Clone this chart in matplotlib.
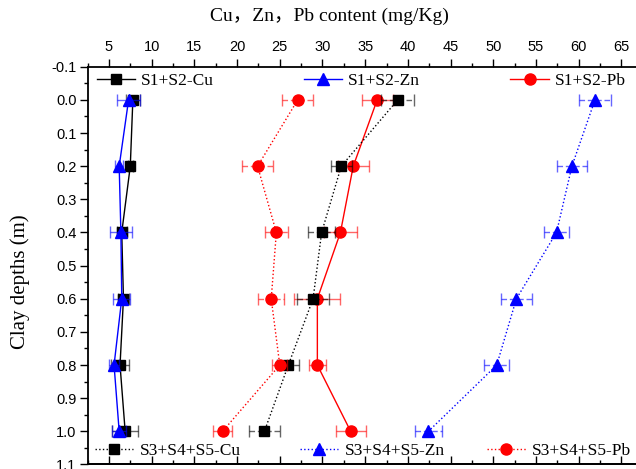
import matplotlib
matplotlib.use("Agg")
import matplotlib.pyplot as plt
from matplotlib.lines import Line2D
from matplotlib.legend import Legend
from matplotlib.ticker import MultipleLocator, FormatStrFormatter

# depths (m)
depth = [0.0, 0.2, 0.4, 0.6, 0.8, 1.0]

# S1+S2 series (solid lines)
s12_cu = [7.8, 7.5, 6.5, 6.7, 6.3, 6.9]
s12_cu_err = [0.8, 0.3, 0.6, 0.6, 1.0, 1.5]
s12_zn = [7.3, 6.2, 6.4, 6.5, 5.6, 6.2]
s12_zn_err = [1.3, 0.5, 1.3, 1.0, 0.6, 0.8]
s12_pb = [36.4, 33.6, 32.1, 29.4, 29.4, 33.3]
s12_pb_err = [1.8, 1.8, 1.9, 2.7, 1.0, 1.75]

# S3+S4+S5 series (dotted lines)
s345_cu = [38.8, 32.2, 29.9, 28.9, 26.0, 23.2]
s345_cu_err = [1.9, 1.2, 1.6, 1.9, 1.3, 1.85]
s345_zn = [61.9, 59.2, 57.4, 52.7, 50.4, 42.4]
s345_zn_err = [1.85, 1.75, 1.45, 1.85, 1.45, 1.6]
s345_pb = [27.1, 22.4, 24.6, 24.0, 25.0, 18.3]
s345_pb_err = [1.8, 1.85, 1.35, 1.5, 0.9, 1.1]

serif = ["Liberation Serif", "Noto Sans CJK SC"]
plt.rcParams["font.family"] = "Liberation Sans"

fig = plt.figure(figsize=(6.36, 4.69), dpi=100)
ax = fig.add_axes([0.1377, 0.0096, 0.873, 0.848])

series = [
    (s12_cu, s12_cu_err, "black", "s", 6.5, "-", "S1+S2-Cu"),
    (s12_zn, s12_zn_err, "blue", "^", 8, "-", "S1+S2-Zn"),
    (s12_pb, s12_pb_err, "red", "o", 8, "-", "S1+S2-Pb"),
    (s345_cu, s345_cu_err, "black", "s", 6.5, ":", "S3+S4+S5-Cu"),
    (s345_zn, s345_zn_err, "blue", "^", 8, ":", "S3+S4+S5-Zn"),
    (s345_pb, s345_pb_err, "red", "o", 8, ":", "S3+S4+S5-Pb"),
]

handles = []
for vals, err, col, mk, ms, ls, name in series:
    eb = ax.errorbar(vals, depth, xerr=err, fmt="none", ecolor=col,
                     elinewidth=1.0, capsize=4, capthick=1.0, alpha=0.6)
    if ls == ":":
        eb[2][0].set_linestyle((0, (4, 2)))
    ax.plot(vals, depth, color=col, linestyle=ls, linewidth=1.0,
            marker=mk, markersize=ms)
    handles.append(Line2D([], [], color=col, linestyle=ls, linewidth=1.0,
                          marker=mk, markersize=ms, label=name))

ax.set_xlim(2.5, 67.5)
ax.set_ylim(1.1, -0.1)

ax.xaxis.set_ticks_position("top")
ax.xaxis.set_label_position("top")
ax.xaxis.set_major_locator(MultipleLocator(5))
ax.xaxis.set_minor_locator(MultipleLocator(2.5))
ax.yaxis.set_major_locator(MultipleLocator(0.1))
ax.yaxis.set_minor_locator(MultipleLocator(0.05))
ax.yaxis.set_major_formatter(FormatStrFormatter("%.1f"))
ax.tick_params(axis="both", which="major", direction="out", length=6,
               width=1, labelsize=10.5)
ax.tick_params(axis="both", which="minor", direction="out", length=3, width=1)
ax.tick_params(axis="y", pad=2)
ax.tick_params(axis="x", pad=3)

sec = ax.secondary_xaxis("bottom")
sec.xaxis.set_major_locator(MultipleLocator(5))
sec.xaxis.set_minor_locator(MultipleLocator(2.5))
sec.tick_params(which="major", direction="in", length=6, width=1, labelbottom=False)
sec.tick_params(which="minor", direction="in", length=3, width=1)
sec.spines["bottom"].set_linewidth(1.3)

for sp in ax.spines.values():
    sp.set_linewidth(1.3)

ax.set_xlabel("Cu，Zn，Pb content (mg/Kg)", family=serif, fontsize=14)
ax.xaxis.set_label_coords(0.435, 1.115)
ax.set_ylabel("Clay depths (m)", family=serif, fontsize=15)
ax.yaxis.set_label_coords(-0.103, 0.46)

# legend entries placed individually (handle start x in data, row depth)
leg_pos = [(3.6, -0.058), (27.8, -0.058), (52.0, -0.058),
           (3.4, 1.058), (27.4, 1.058), (49.3, 1.058)]
for h, (lx, ly) in zip(handles, leg_pos):
    xa = (lx - 2.5) / 65.0
    ya = (1.1 - ly) / 1.2
    leg = Legend(ax, [h], [h.get_label()], loc="center left",
                 bbox_to_anchor=(xa, ya), frameon=False, borderpad=0,
                 borderaxespad=0, handlelength=2.2, handletextpad=0.35,
                 prop={"family": "Liberation Serif", "size": 12.5})
    ax.add_artist(leg)

fig.savefig("out.png", dpi=100)
